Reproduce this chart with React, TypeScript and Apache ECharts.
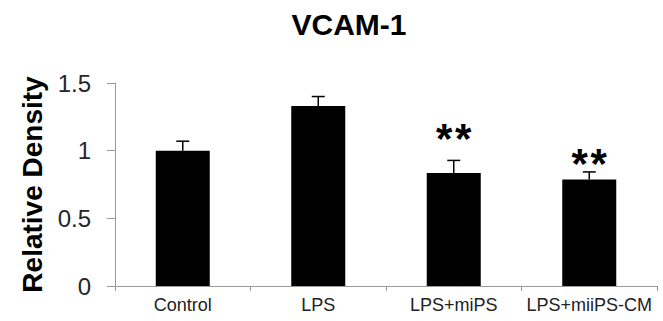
import React, { useEffect, useRef } from "react";
import * as echarts from "echarts";

const categories = ["Control", "LPS", "LPS+miPS", "LPS+miiPS-CM"];
const meanValues = [1.0, 1.33, 0.835, 0.787];
const errorTops = [1.07, 1.4, 0.928, 0.843];
const starLabels = ["", "", "**", "**"];
const starValues = [0, 0, 1.135, 0.948];
const yTicks = { min: 0, max: 1.5, interval: 0.5 };

export default function App() {
  const ref = useRef<HTMLDivElement>(null);
  useEffect(() => {
    if (!ref.current) return;
    const chart = echarts.init(ref.current, null, { renderer: "svg" });
    const font = "'Liberation Sans', Arial, sans-serif";
    chart.setOption({
      animation: false,
      title: {
        text: "VCAM-1",
        left: 344,
        top: 4,
        textAlign: "center",
        textStyle: { fontFamily: font, fontSize: 30, fontWeight: "bold", color: "#000" },
      },
      grid: { left: 115, right: 6, top: 83, bottom: 35, containLabel: false },
      xAxis: {
        type: "category",
        data: categories,
        boundaryGap: true,
        axisLine: { lineStyle: { color: "#999", width: 1 } },
        axisTick: { show: true, length: 5, lineStyle: { color: "#999" } },
        axisLabel: { fontFamily: font, fontSize: 18, color: "#222", margin: 10, interval: 0 },
      },
      yAxis: {
        type: "value",
        min: yTicks.min,
        max: yTicks.max,
        interval: yTicks.interval,
        name: "Relative Density",
        nameLocation: "middle",
        nameGap: 58,
        nameTextStyle: { fontFamily: font, fontSize: 28, fontWeight: "bold", color: "#000" },
        axisLine: { show: true, lineStyle: { color: "#999", width: 1 } },
        axisTick: { show: true, length: 8, lineStyle: { color: "#999" } },
        axisLabel: { fontFamily: font, fontSize: 24, color: "#262626", margin: 24 },
        splitLine: { show: false },
      },
      series: [
        {
          type: "bar",
          data: meanValues,
          barWidth: 54,
          itemStyle: { color: "#000" },
          z: 2,
        },
        {
          type: "custom",
          data: categories.map((_, i) => [i, meanValues[i], errorTops[i]]),
          z: 3,
          renderItem: (params: any, api: any) => {
            const x = api.value(0);
            const p0 = api.coord([x, api.value(1)]);
            const p1 = api.coord([x, api.value(2)]);
            const half = 6.5;
            return {
              type: "group",
              children: [
                {
                  type: "line",
                  shape: { x1: p0[0], y1: p0[1], x2: p1[0], y2: p1[1] },
                  style: { stroke: "#000", lineWidth: 1.5 },
                },
                {
                  type: "line",
                  shape: { x1: p1[0] - half, y1: p1[1], x2: p1[0] + half, y2: p1[1] },
                  style: { stroke: "#000", lineWidth: 1.5 },
                },
              ],
            };
          },
        },
        {
          type: "custom",
          data: categories.map((_, i) => [i, starValues[i]]),
          z: 4,
          renderItem: (params: any, api: any) => {
            const idx = params.dataIndex;
            const label = starLabels[idx];
            if (!label) return null;
            const p = api.coord([api.value(0), api.value(1)]);
            const chars = label.split("");
            const step = 19;
            const start = p[0] - ((chars.length - 1) * step) / 2;
            return {
              type: "group",
              children: chars.map((c: string, k: number) => ({
                type: "text",
                x: start + k * step,
                y: p[1] + 6,
                style: {
                  text: c,
                  fontFamily: font,
                  fontSize: 42,
                  fontWeight: "bold",
                  fill: "#000",
                  align: "center",
                  verticalAlign: "middle",
                },
              })),
            };
          },
        },
      ],
    });
    return () => chart.dispose();
  }, []);
  return <div ref={ref} style={{ width: 663, height: 321, position: "absolute", left: 0, top: 0 }} />;
}
